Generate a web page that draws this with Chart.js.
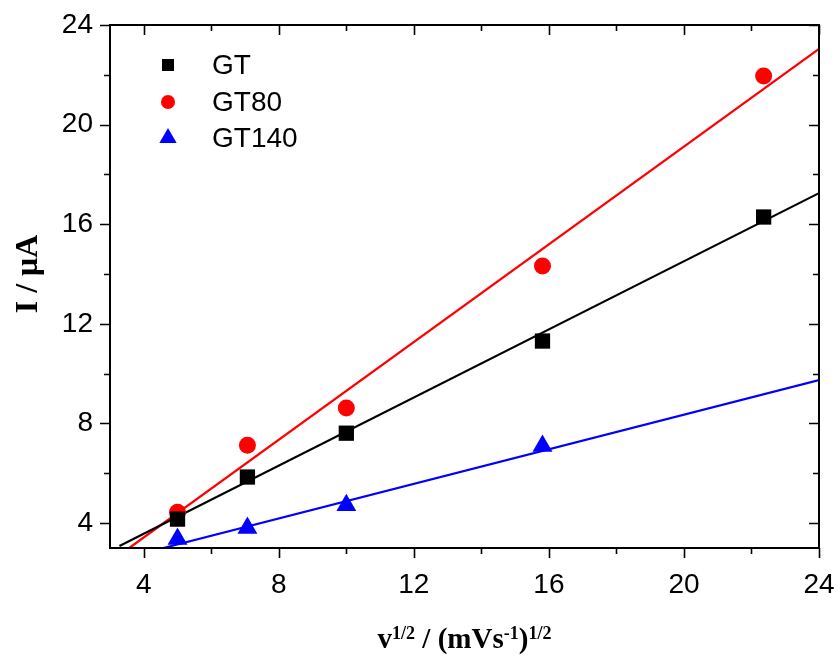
<!DOCTYPE html>
<html>
<head>
<meta charset="utf-8">
<script src="https://cdn.jsdelivr.net/npm/chart.js@4/dist/chart.umd.min.js"></script>
<style>
  body { margin: 0; background: #fff; }
  canvas { display: block; }
</style>
</head>
<body>
<canvas id="peakChart" width="840" height="657"></canvas>
<script>
// scan rate^(1/2) values, (mV/s)^(1/2)
const sqrtScanRate = [5, 7.07, 10, 15.81, 22.36];
const gtCurrent = [4.16, 5.85, 7.61, 11.31, 16.29];
const gt80Current = [4.44, 7.13, 8.62, 14.32, 21.95];
const gt140Current = [3.36, 3.80, 4.72, 7.10];

// linear fit lines (end points)
const gtFitX = [3.28, 24];
const gtFitY = [3.08, 17.25];
const gt80FitX = [3.57, 24];
const gt80FitY = [3.0, 23.04];
const gt140FitX = [4.58, 24];
const gt140FitY = [3.0, 9.74];

const xTicks = [4, 8, 12, 16, 20, 24];
const yTicks = [4, 8, 12, 16, 20, 24];

const legendNames = ['GT', 'GT80', 'GT140'];

function pts(xs, ys) {
    return ys.map((y, i) => ({x: xs[i], y: y}));
}

const seriesColors = ['#000000', '#ff0000', '#0000ff'];
const seriesStyles = ['rect', 'circle', 'triangle'];
const seriesRadius = [10.8, 8.5, 11.5];

let datasets = [];
[gtCurrent, gt80Current, gt140Current].forEach((vals, i) => {
    datasets.push({
        label: legendNames[i],
        data: pts(sqrtScanRate, vals),
        showLine: false,
        pointStyle: seriesStyles[i],
        pointRadius: seriesRadius[i],
        pointBackgroundColor: seriesColors[i],
        pointBorderWidth: 0,
        order: 0
    });
});
[[gtFitX, gtFitY], [gt80FitX, gt80FitY], [gt140FitX, gt140FitY]].forEach((f, i) => {
    datasets.push({
        label: legendNames[i] + ' fit',
        data: pts(f[0], f[1]),
        showLine: true,
        borderColor: seriesColors[i],
        borderWidth: 2.2,
        pointRadius: 0,
        order: 1
    });
});

// frame, ticks on all four sides, axis titles, legend
const frameAndTitles = {
    id: 'frameAndTitles',
    afterDraw(chart) {
        const ctx = chart.ctx;
        const a = chart.chartArea;
        const xs = chart.scales.x, ys = chart.scales.y;
        ctx.save();
        ctx.strokeStyle = '#000';
        ctx.lineWidth = 2;
        ctx.strokeRect(a.left, a.top, a.right - a.left, a.bottom - a.top);

        ctx.lineWidth = 1.6;
        ctx.beginPath();
        for (let v = 4; v <= 24; v += 2) {
            const major = v % 4 === 0;
            const len = major ? 10 : 6;
            const px = Math.round(xs.getPixelForValue(v)) + 0.5;
            ctx.moveTo(px, a.bottom); ctx.lineTo(px, a.bottom + len);
            ctx.moveTo(px, a.top); ctx.lineTo(px, a.top + len);
            const py = Math.round(ys.getPixelForValue(v)) + 0.5;
            ctx.moveTo(a.left, py); ctx.lineTo(a.left - len, py);
            ctx.moveTo(a.right, py); ctx.lineTo(a.right - len, py);
        }
        ctx.stroke();

        // x title with superscripts
        const parts = [
            ['v', false], ['1/2', true], [' / (mVs', false], ['-1', true], [')', false], ['1/2', true]
        ];
        const mainFont = 'bold 29px "Liberation Serif", "Times New Roman", serif';
        const supFont = 'bold 18px "Liberation Serif", "Times New Roman", serif';
        let total = 0;
        parts.forEach(p => { ctx.font = p[1] ? supFont : mainFont; total += ctx.measureText(p[0]).width; });
        let cx = (a.left + a.right) / 2 - total / 2;
        const base = 648;
        ctx.fillStyle = '#000';
        ctx.textBaseline = 'alphabetic';
        ctx.textAlign = 'left';
        parts.forEach(p => {
            ctx.font = p[1] ? supFont : mainFont;
            ctx.fillText(p[0], cx, p[1] ? base - 9 : base);
            cx += ctx.measureText(p[0]).width;
        });

        // y title
        ctx.save();
        ctx.translate(37, 274);
        ctx.rotate(-Math.PI / 2);
        ctx.font = 'bold 32px "Liberation Serif", "Times New Roman", serif';
        ctx.textAlign = 'center';
        ctx.fillText('I / \u03bcA', 0, 0);
        ctx.restore();

        // legend
        const rows = [65, 102, 138];
        const legendRadius = [8.5, 7, 10];
        legendNames.forEach((name, i) => {
            ctx.fillStyle = seriesColors[i];
            Chart.helpers.drawPoint(ctx, {pointStyle: seriesStyles[i], radius: legendRadius[i], rotation: 0, borderWidth: 0}, 168, rows[i]);
            ctx.fillStyle = '#000';
            ctx.font = '28px "Liberation Sans", Arial, sans-serif';
            ctx.textBaseline = 'middle';
            ctx.textAlign = 'left';
            ctx.fillText(name, 212, rows[i] + 1);
        });
        ctx.restore();
    }
};

new Chart(document.getElementById('peakChart'), {
    type: 'scatter',
    data: {datasets: datasets},
    options: {
        responsive: false,
        animation: false,
        devicePixelRatio: 1,
        layout: {padding: {top: 25, right: 21, left: 0, bottom: 0}},
        plugins: {legend: {display: false}, tooltip: {enabled: false}},
        scales: {
            x: {
                type: 'linear',
                min: 3,
                max: 24,
                afterFit: s => { s.height = 109; s.paddingLeft = 0; s.paddingRight = 0; },
                afterBuildTicks: s => { s.ticks = xTicks.map(v => ({value: v})); },
                grid: {display: false, drawTicks: false},
                border: {display: false},
                ticks: {
                    color: '#000',
                    padding: 20,
                    maxRotation: 0,
                    font: {family: '"Liberation Sans", Arial, sans-serif', size: 28}
                }
            },
            y: {
                type: 'linear',
                min: 3,
                max: 24,
                afterFit: s => { s.width = 110; s.paddingTop = 0; s.paddingBottom = 0; },
                afterBuildTicks: s => { s.ticks = yTicks.map(v => ({value: v})); },
                grid: {display: false, drawTicks: false},
                border: {display: false},
                ticks: {
                    color: '#000',
                    padding: 17,
                    font: {family: '"Liberation Sans", Arial, sans-serif', size: 28}
                }
            }
        }
    },
    plugins: [frameAndTitles]
});
</script>
</body>
</html>
